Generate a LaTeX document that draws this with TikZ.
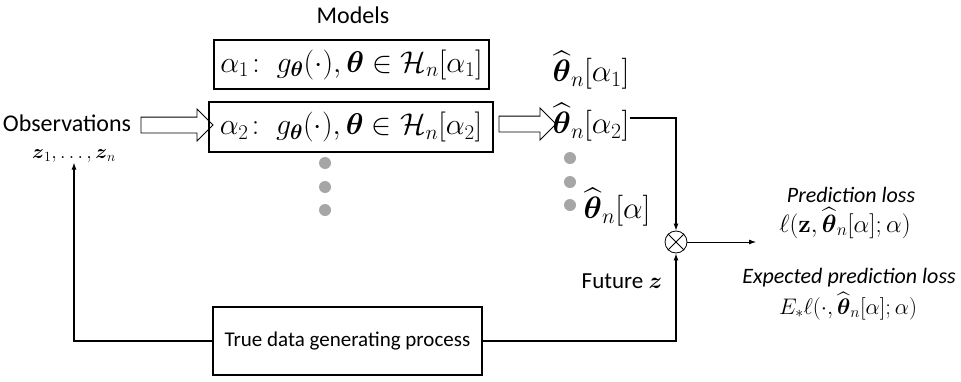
\RequirePackage{fix-cm}
\documentclass[tikz,border=0pt]{standalone}
\usepackage{amsmath,amssymb}
\usepackage[no-math]{fontspec}
\setmainfont{Carlito}
\usetikzlibrary{arrows.meta,shapes.arrows}
\begin{document}
\begin{tikzpicture}[x=1pt,y=-1pt,
  mbox/.style={draw,line width=1.3pt,minimum height=49pt,inner sep=0pt,font=\fontsize{30}{33}\selectfont},
  tbox/.style={draw,line width=1.3pt,minimum width=269pt,minimum height=68pt,inner sep=0pt,font=\fontsize{21}{25}\selectfont},
  hollow/.style={single arrow,draw,line width=0.8pt,inner xsep=0pt,inner ysep=7.5pt,single arrow head extend=8pt,single arrow head indent=0pt,shape border rotate=0,anchor=center},
  gdot/.style={circle,fill=black!35,minimum size=12pt,inner sep=0pt},
  lbl/.style={inner sep=0pt,font=\fontsize{22}{26}\selectfont},
  mth/.style={inner sep=0pt,font=\fontsize{31}{34}\selectfont},
  conn/.style={line width=1.1pt,-{Latex[length=7pt,width=5pt]}}]
\useasboundingbox (0,0) rectangle (961,381);
% titles and models
\node[lbl,font=\fontsize{24}{28}\selectfont] (models) at (353,15) {Models};
\node[mbox,minimum width=275pt] (m1) at (351.5,64.5) {$\alpha_1\!:\; g_{\boldsymbol\theta}(\cdot),\boldsymbol\theta\in\mathcal{H}_n[\alpha_1]$};
\node[mbox,minimum width=284pt,minimum height=50pt] (m2) at (351,127) {$\alpha_2\!:\; g_{\boldsymbol\theta}(\cdot),\boldsymbol\theta\in\mathcal{H}_n[\alpha_2]$};
\node[gdot] (d1) at (325,163) {};
\node[gdot] (d2) at (325,187) {};
\node[gdot] (d3) at (325,210) {};
% observations
\node[lbl,font=\fontsize{24}{28}\selectfont] (obs) at (67,123) {Observations};
\node[lbl,font=\fontsize{20}{24}\selectfont] (obsz) at (74,156) {$\boldsymbol z_1,\dots,\boldsymbol z_n$};
\node[hollow,minimum height=72pt] (a1) at (173,125) {};
\node[hollow,minimum height=57pt] (a2) at (523.5,124) {};
% estimates
\node[mth] (t1) at (591,70) {$\widehat{\boldsymbol\theta}_n[\alpha_1]$};
\node[mth] (t2) at (591,122) {$\widehat{\boldsymbol\theta}_n[\alpha_2]$};
\node[gdot] (e1) at (570,158) {};
\node[gdot] (e2) at (570,182) {};
\node[gdot] (e3) at (570,205) {};
\node[mth] (t3) at (617,207) {$\widehat{\boldsymbol\theta}_n[\alpha]$};
% combiner
\node[circle,draw,line width=0.8pt,minimum size=22pt,inner sep=0pt] (mult) at (676,242) {};
\draw[line width=0.8pt] (mult.north west) -- (mult.south east) (mult.north east) -- (mult.south west);
\coordinate (t2r) at (t2.east |- 0,118);
\coordinate (out) at (756,242);
\draw[conn] (t2r) -| (mult.north);
\draw[line width=0.8pt,-{Latex[length=7pt,width=5pt]}] (mult.east) -- (out);
% losses
\node[lbl] (pl) at (851,195) {\itshape Prediction loss};
\node[lbl,font=\fontsize{25}{29}\selectfont] (plf) at (845,223) {$\ell(\mathbf{z},\widehat{\boldsymbol\theta}_n[\alpha];\alpha)$};
\node[lbl] (epl) at (849,278) {\itshape Expected prediction loss};
\node[lbl,font=\fontsize{22.5}{26}\selectfont] (eplf) at (848,306) {$E_*\ell(\cdot,\widehat{\boldsymbol\theta}_n[\alpha];\alpha)$};
% true process
\node[lbl,font=\fontsize{23}{27}\selectfont] (fz) at (622,281) {Future $\boldsymbol z$};
\node[tbox] (tdg) at (347.5,341) {True data generating process};
\draw[conn] (tdg.east) -| (mult.south);
\draw[conn] (tdg.west) -| (obsz.south);
\end{tikzpicture}
\end{document}
